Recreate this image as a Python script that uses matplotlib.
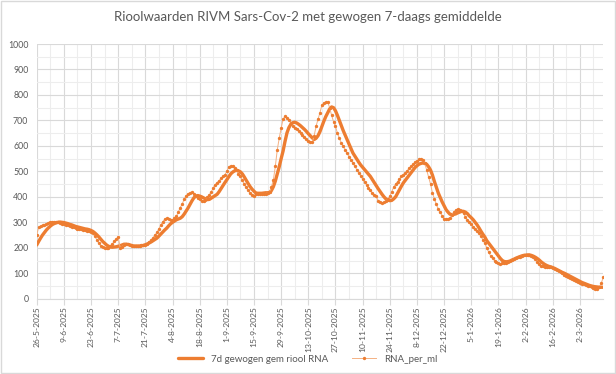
import matplotlib.pyplot as plt
import pandas as pd

START = '2025-05-26'

rna_per_ml = [
    251, 280, 285, 288, 290, 293, 296, 300, 303, 302, 302, 300, 298, 295,
    293, 290, 288, 286, 283, 280, 277, 275, 273, 272, 270, 268, 266, 264,
    262, 258, 245, 231, 218, 208, 203, 200, 198, 200, 206, 215, 225, 234,
    242, 201, 204, 212, 216, 214, 210, 208, 207, 207, 208, 208, 209, 209,
    210, 215, 222, 231, 240, 250, 260, 275, 290, 303, 312, 316, 314, 311,
    310, 315, 323, 340, 358, 372, 390, 404, 412, 416, 418, 412, 403, 396,
    390, 385, 382, 388, 398, 408, 420, 435, 448, 456, 464, 472, 480, 487,
    500, 518, 522, 520, 512, 505, 490, 480, 465, 450, 437, 425, 415, 408,
    405, 410, 412, 413, 412, 412, 413, 415, 418, 440, 467, 520, 585, 630,
    670, 705, 716, 710, 703, 690, 680, 671, 665, 658, 650, 643, 635, 628,
    620, 616, 614, 640, 677, 705, 730, 760, 769, 772, 772, 750, 720, 695,
    677, 650, 630, 612, 598, 585, 572, 558, 545, 533, 520, 507, 494, 483,
    470, 458, 448, 436, 425, 415, 408, 402, 385, 378, 376, 378, 383, 392,
    402, 420, 438, 450, 460, 470, 480, 487, 495, 503, 512, 520, 528, 536,
    542, 547, 549, 545, 533, 505, 478, 450, 415, 392, 370, 352, 340, 325,
    312, 312, 314, 318, 328, 340, 348, 352, 348, 343, 335, 322, 310, 302,
    292, 283, 275, 265, 257, 245, 232, 218, 200, 182, 168, 158, 150, 143,
    139, 138, 139, 139, 139, 143, 148, 152, 156, 159, 162, 165, 168, 170,
    172, 172, 171, 168, 165, 157, 145, 135, 130, 128, 126, 125, 125, 126,
    122, 117, 113, 108, 104, 100, 95, 90, 86, 82, 78, 74, 70, 66,
    62, 59, 56, 54, 51, 48, 45, 42, 39, 37, 45, 60, 84,
]

gewogen_7d = [
    211, 225, 238, 250, 260, 270, 278, 285, 291, 295, 298, 300, 301, 300,
    299, 297, 295, 292, 290, 287, 284, 282, 280, 278, 276, 274, 273, 271,
    268, 264, 258, 251, 243, 234, 225, 218, 211, 206, 203, 202, 203, 204,
    206, 208, 211, 214, 214, 213, 211, 209, 207, 207, 207, 207, 208, 209,
    212, 215, 219, 223, 228, 233, 238, 246, 254, 262, 270, 277, 286, 294,
    300, 305, 310, 313, 316, 322, 332, 344, 356, 370, 384, 396, 403, 405,
    403, 400, 396, 392, 389, 390, 395, 400, 405, 410, 420, 432, 444, 456,
    467, 479, 490, 497, 502, 504, 502, 498, 490, 478, 465, 452, 440, 430,
    422, 415, 414, 414, 414, 415, 416, 416, 417, 425, 440, 462, 490, 518,
    550, 580, 618, 651, 672, 685, 691, 693, 690, 685, 679, 672, 665, 657,
    648, 640, 632, 625, 630, 640, 656, 677, 697, 715, 730, 745, 753, 750,
    738, 720, 700, 680, 660, 642, 625, 607, 590, 572, 560, 548, 536, 525,
    516, 507, 498, 489, 480, 468, 456, 444, 432, 421, 410, 400, 392, 387,
    385, 386, 392, 400, 414, 428, 442, 455, 465, 475, 485, 495, 505, 515,
    522, 528, 531, 533, 531, 528, 518, 505, 485, 460, 437, 415, 397, 380,
    365, 350, 340, 332, 330, 331, 333, 337, 340, 343, 343, 340, 334, 325,
    318, 310, 300, 290, 278, 265, 253, 242, 228, 218, 208, 198, 188, 178,
    168, 158, 150, 146, 145, 146, 148, 152, 155, 159, 162, 165, 168, 170,
    171, 172, 172, 170, 167, 163, 158, 152, 145, 139, 134, 130, 127, 125,
    122, 119, 115, 111, 107, 103, 100, 96, 92, 88, 84, 80, 76, 72,
    68, 64, 61, 58, 55, 52, 50, 48, 47, 46, 45, 45, 45,
]

ORANGE = '#ED7D31'
GREY_TXT = '#595959'

plt.rcParams['font.family'] = ['Lato', 'DejaVu Sans']

dates = pd.date_range(START, periods=len(rna_per_ml), freq='D')

fig = plt.figure(figsize=(6.16, 3.74), dpi=100)
ax = fig.add_axes([0.0596, 0.2013, 0.9196, 0.681])

ax.plot(dates, gewogen_7d, color=ORANGE, lw=2.4, solid_capstyle='round',
        label='7d gewogen gem riool RNA', zorder=3)
ax.plot(dates, rna_per_ml, color='#F4B183', lw=0.7, marker='o', ms=1.4,
        mfc=ORANGE, mec=ORANGE, label='RNA_per_ml', zorder=4)

major = pd.date_range(START, dates[-1], freq='14D')
minor = pd.date_range(START, dates[-1], freq='7D')
ax.set_xticks(major)
ax.set_xticklabels([f'{d.day}-{d.month}-{d.year}' for d in major], rotation=90)
ax.set_xticks(minor, minor=True)
ax.set_yticks(range(0, 1001, 100))
ax.set_yticks(range(50, 1000, 100), minor=True)
ax.set_xlim(dates[0], dates[-1])
ax.set_ylim(0, 1000)

ax.grid(which='major', color='#D9D9D9', lw=0.8)
ax.grid(which='minor', color='#EDEDED', lw=0.8)
ax.set_axisbelow(True)

ax.tick_params(axis='x', which='major', length=4, color='#D9D9D9',
               labelsize=6.1, labelcolor=GREY_TXT, pad=1.5)
ax.tick_params(axis='x', which='minor', length=0)
ax.tick_params(axis='y', which='both', length=0, labelsize=6.3,
               labelcolor=GREY_TXT, pad=6)
for s in ['top', 'right', 'left']:
    ax.spines[s].set_visible(False)
ax.spines['bottom'].set_color('#D9D9D9')

fig.text(0.5, 1 - 17 / 374, 'Rioolwaarden RIVM Sars-Cov-2 met gewogen 7-daags gemiddelde',
         ha='center', va='center', fontsize=9.5, color=GREY_TXT)

fig.legend(loc='center', bbox_to_anchor=(0.5, 1 - 359 / 374), ncol=2, frameon=False,
           fontsize=7, labelcolor=GREY_TXT, handlelength=2.5, columnspacing=2.5,
           borderpad=0.2)

fig.add_artist(plt.Rectangle((0.002, 0.003), 0.996, 0.994, transform=fig.transFigure,
                             fill=False, ec='#D9D9D9', lw=1))

fig.savefig('out.png', dpi=100)
